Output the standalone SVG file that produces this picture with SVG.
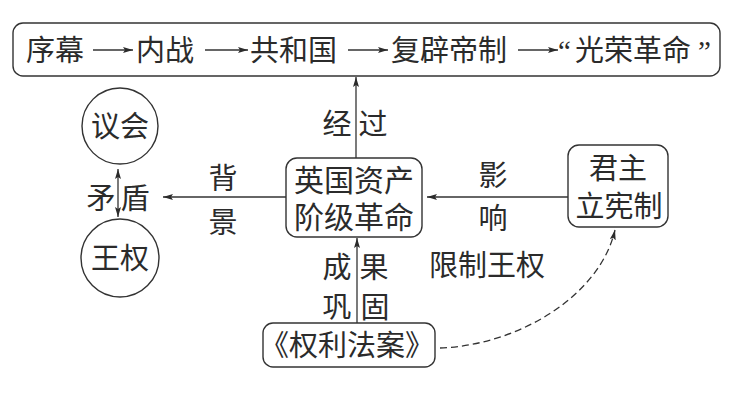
<svg xmlns="http://www.w3.org/2000/svg" width="735" height="404" viewBox="0 0 735 404">
<defs>
<marker id="ah" viewBox="0 0 10 6" refX="10" refY="3" markerWidth="10" markerHeight="6" markerUnits="userSpaceOnUse" orient="auto-start-reverse">
<path d="M0,0 L10,3 L0,6 L2,3 z" fill="#2b2b2b"/>
</marker>
</defs>
<style>
text{font-family:"Noto Sans CJK SC","Noto Sans CJK JP",sans-serif;font-size:29px;fill:#2b2b2b}
.q{font-family:"Liberation Serif",serif}
.m{text-anchor:middle}
.box{fill:none;stroke:#333;stroke-width:1.4}
.ln{fill:none;stroke:#333;stroke-width:1.3;marker-end:url(#ah)}
.dash{stroke-dasharray:7 4}
</style>
<rect width="735" height="404" fill="#fff"/>
<g id="timeline">
<rect class="box" x="13" y="23" width="707" height="53" rx="10"/>
<text x="26" y="61">序幕</text>
<text x="136" y="61">内战</text>
<text x="250" y="61">共和国</text>
<text x="391" y="61">复辟帝制</text>
<text class="q" x="558" y="61">“</text>
<text x="575" y="61">光荣革命</text>
<text class="q" x="698" y="61">”</text>
<g id="timeline-arrows">
<line class="ln" x1="93" y1="50" x2="133" y2="50"/>
<line class="ln" x1="205" y1="50" x2="248" y2="50"/>
<line class="ln" x1="348" y1="50" x2="388" y2="50"/>
<line class="ln" x1="518" y1="50" x2="558" y2="50"/>
</g>
</g>
<g id="parliament">
<circle class="box" cx="120" cy="126" r="38"/>
<text class="m" x="120" y="137">议会</text>
</g>
<g id="kingship">
<circle class="box" cx="120" cy="258" r="39"/>
<text class="m" x="120" y="269">王权</text>
</g>
<g id="revolution">
<rect class="box" x="286" y="158" width="136" height="79" rx="11"/>
<text class="m" style="font-size:30px"><tspan x="354" y="191">英国资产</tspan><tspan x="354" y="228">阶级革命</tspan></text>
</g>
<g id="monarchy">
<rect class="box" x="568" y="145" width="100" height="82" rx="11"/>
<text class="m"><tspan x="618" y="179">君主</tspan><tspan x="619" y="217">立宪制</tspan></text>
</g>
<g id="bill">
<rect class="box" x="263" y="323" width="172" height="44" rx="10"/>
<text class="m" x="347" y="356">《权利法案》</text>
</g>
<g id="connectors">
<line class="ln" x1="356" y1="158" x2="356" y2="77"/>
<line class="ln" x1="286" y1="197" x2="163" y2="197"/>
<line class="ln" x1="568" y1="197" x2="427" y2="197"/>
<line class="ln" x1="357" y1="323" x2="357" y2="238"/>
<line class="ln" x1="118" y1="169" x2="118" y2="217" style="marker-start:url(#ah)"/>
<path class="ln dash" d="M440,348 C520,345 600,295 615,230"/>
</g>
<g id="labels">
<text class="m" x="337" y="135">经</text>
<text class="m" x="373" y="135">过</text>
<text class="m" x="223" y="189">背</text>
<text class="m" x="223" y="233">景</text>
<text class="m" x="101" y="209">矛</text>
<text class="m" x="135" y="209">盾</text>
<text class="m" x="493" y="186">影</text>
<text class="m" x="493" y="229">响</text>
<text class="m" x="487" y="276">限制王权</text>
<text class="m" x="337" y="278">成</text>
<text class="m" x="374" y="278">果</text>
<text class="m" x="337" y="318">巩</text>
<text class="m" x="375" y="318">固</text>
</g>
</svg>
